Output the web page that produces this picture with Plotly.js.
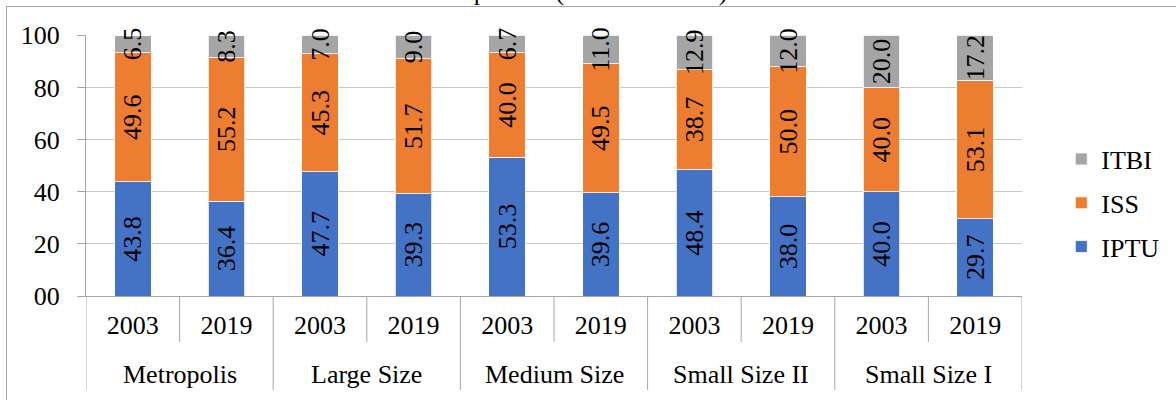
<!DOCTYPE html>
<html><head><meta charset="utf-8">
<script src="https://cdn.plot.ly/plotly-3.0.1.min.js"></script>
<style>
html,body{margin:0;padding:0;background:#fff;}
#wrap{position:relative;width:1176px;height:400px;overflow:hidden;}
#chart{width:1176px;height:400px;}
#frame{position:absolute;left:6px;top:6px;width:1200px;height:420px;border:1px solid #a6a6a6;pointer-events:none;}
</style>
</head><body>
<div id="wrap"><div id="chart"></div><div id="frame"></div></div>
<script>
const groups = ["Metropolis","Large Size","Medium Size","Small Size II","Small Size I"];
const years = ["2003","2019","2003","2019","2003","2019","2003","2019","2003","2019"];
const IPTU = [43.8,36.4,47.7,39.3,53.3,39.6,48.4,38.0,40.0,29.7];
const ISS  = [49.6,55.2,45.3,51.7,40.0,49.5,38.7,50.0,40.0,53.1];
const ITBI = [6.5,8.3,7.0,9.0,6.7,11.0,12.9,12.0,20.0,17.2];
const yTickVals = [0,20,40,60,80,100];
const yTickText = ["00","20","40","60","80","100"];
const titleText = "municipalities (2003 and 2019)";

const FONT_FAMILY = "Liberation Serif";
const FS = 26;
const plotH = 400 - 35 - 104;
const xIdx = years.map((_, i) => i);
const fnt = () => ({family:FONT_FAMILY, size:FS, color:"#000000"});

function tr(name, vals, color, rank){
  return {
    type:"bar", name:name, x:xIdx, y:vals, legendrank:rank, legendgroup:name,
    marker:{color:color, line:{color:"#ffffff", width:0.8}},
    texttemplate:"%{y:.1f}", textposition:"inside", insidetextanchor:"middle",
    textangle:-90, constraintext:"none", cliponaxis:false,
    textfont:fnt(),
    hoverinfo:"skip"
  };
}
const data = [tr("IPTU", IPTU, "#4472c4", 3), tr("ISS", ISS, "#ed7d31", 2), tr("ITBI", ITBI, "#a5a5a5", 1)];

const shapes = [];
const annotations = [];
const perGroup = years.length / groups.length;
groups.forEach((g, gi) => {
  const start = gi * perGroup;
  annotations.push({xref:"x", yref:"paper", x:start + (perGroup - 1) / 2, y:-79 / plotH,
    text:g, showarrow:false, xanchor:"center", yanchor:"middle", font:fnt()});
  shapes.push({type:"line", xref:"x", yref:"paper", x0:start - 0.5, x1:start - 0.5, y0:0, y1:-94 / plotH,
    line:{color:"#a6a6a6", width:1}});
  for (let k = 1; k < perGroup; k++) {
    shapes.push({type:"line", xref:"x", yref:"paper", x0:start + k - 0.5, x1:start + k - 0.5, y0:0, y1:-46 / plotH,
      line:{color:"#a6a6a6", width:1}});
  }
});
shapes.push({type:"line", xref:"x", yref:"paper", x0:years.length - 0.5, x1:years.length - 0.5, y0:0, y1:-94 / plotH,
  line:{color:"#a6a6a6", width:1}});

const layout = {
  width:1176, height:400,
  margin:{l:86, r:139, t:35, b:104},
  barmode:"stack", bargap:0.61,
  paper_bgcolor:"#fff", plot_bgcolor:"#fff",
  font:fnt(),
  title:{text:titleText, font:fnt(), x:0.48, xanchor:"center", yref:"container", y:1.0, yanchor:"bottom"},
  xaxis:{range:[-0.5, years.length - 0.5], tickvals:xIdx, ticktext:years, showline:true, linecolor:"#a6a6a6", linewidth:1,
    ticks:"outside", ticklen:6, tickcolor:"rgba(0,0,0,0)",
    tickfont:fnt(), showgrid:false, zeroline:false, fixedrange:true},
  yaxis:{range:[0,100.15], tickvals:yTickVals, ticktext:yTickText, showgrid:true, gridcolor:"#c8c8c8", gridwidth:1,
    showline:true, linecolor:"#a6a6a6", ticks:"outside", ticklen:8, tickcolor:"#a6a6a6", ticklabelstandoff:12,
    tickfont:fnt(), zeroline:false, fixedrange:true},
  legend:{x:1.042, xanchor:"left", y:0.356, yanchor:"middle", traceorder:"grouped", tracegroupgap:7,
    font:fnt(), itemwidth:30, bgcolor:"rgba(0,0,0,0)"},
  showlegend:true,
  shapes:shapes, annotations:annotations
};
Plotly.newPlot("chart", data, layout, {staticPlot:true});
</script>
</body></html>
